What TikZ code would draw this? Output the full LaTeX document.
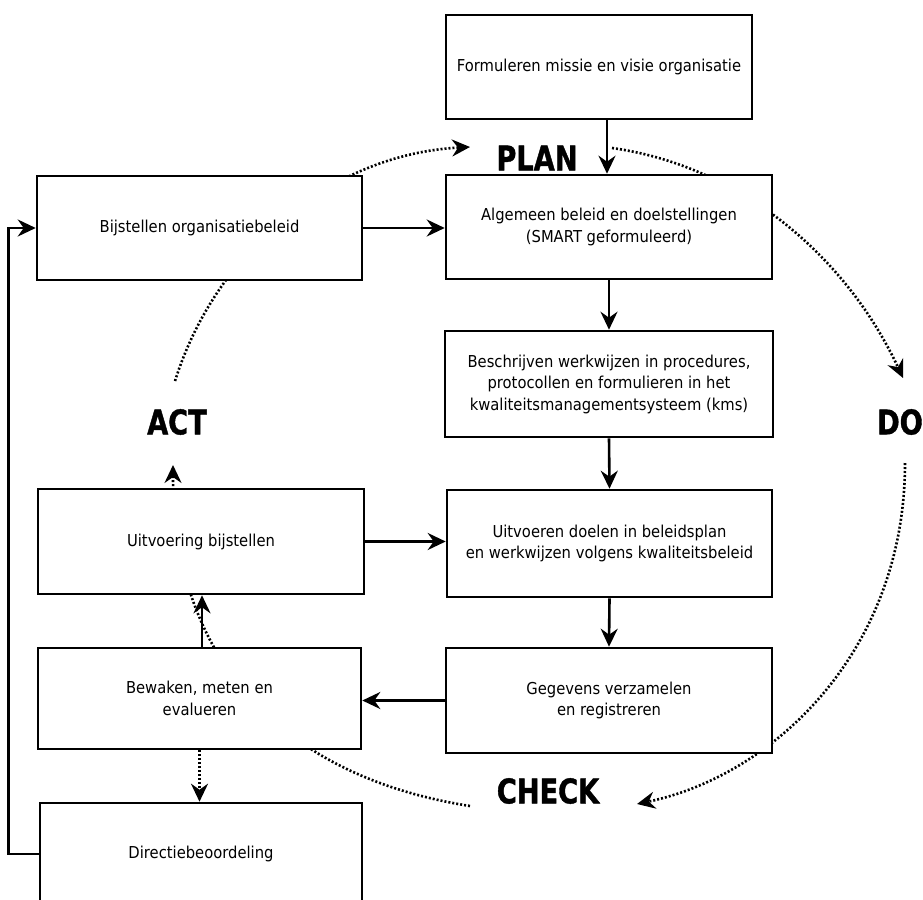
\documentclass[tikz,border=0pt]{standalone}
\usepackage{fontspec}
\setmainfont{DejaVu Sans}[FakeStretch=0.9]
\newfontfamily\lblfont[FakeStretch=0.8,FakeBold=1.2]{DejaVu Sans Bold}
\usetikzlibrary{arrows.meta}
\begin{document}
\begin{tikzpicture}[x=1pt,y=-1pt,
  box/.style={draw, line width=2.6pt, fill=white, inner sep=0pt, align=center,
    font=\fontsize{16.4}{21.5}\selectfont},
  arr/.style={line width=2.6pt, -{Stealth[length=18pt,width=17pt,inset=6pt]}},
  dotarr/.style={line width=2.6pt, dash pattern=on 2pt off 2pt,
    -{Stealth[length=18pt,width=17pt,inset=6pt]}},
  phase/.style={font=\lblfont\fontsize{34}{34}\selectfont, inner sep=0pt}]
\useasboundingbox (0,0) rectangle (923,899);
\clip (0,0) rectangle (923,899);
% cycle arcs (behind boxes)
\coordinate (a0) at (175,381); \coordinate (a1) at (470,147);
\coordinate (b0) at (612,148); \coordinate (b1) at (903,378);
\coordinate (c0) at (905,463); \coordinate (c1) at (637,804);
\coordinate (d0) at (470,806); \coordinate (d1) at (173,465);
\draw[dotarr] (a0) .. controls (216.4,249.4) and (332.3,154.2) .. (a1);
\draw[dotarr] (b0) .. controls (742.7,166.4) and (847.2,258.4) .. (b1);
\draw[dotarr] (c0) .. controls (905,650) and (775,775) .. (c1);
\draw[dotarr] (d0) .. controls (277.3,775.6) and (173,655) .. (d1);
% boxes
\node[box, minimum width=306pt, minimum height=104pt] (form) at (599,67) {Formuleren missie en visie organisatie};
\node[box, minimum width=326pt, minimum height=104pt] (alg) at (609,227) {Algemeen beleid en doelstellingen\\(SMART geformuleerd)};
\node[box, minimum width=328pt, minimum height=106pt] (besch) at (609,384) {Beschrijven werkwijzen in procedures,\\protocollen en formulieren in het\\kwaliteitsmanagementsysteem (kms)};
\node[box, minimum width=325pt, minimum height=107pt] (uitv) at (609.5,543.5) {Uitvoeren doelen in beleidsplan\\en werkwijzen volgens kwaliteitsbeleid};
\node[box, minimum width=326pt, minimum height=105pt] (geg) at (609,700.5) {Gegevens verzamelen\\en registreren};
\node[box, minimum width=325pt, minimum height=104pt] (bijst) at (199.5,228) {Bijstellen organisatiebeleid};
\node[box, minimum width=326pt, minimum height=105pt] (uitvb) at (201,541.5) {Uitvoering bijstellen};
\node[box, minimum width=323pt, minimum height=101pt] (bew) at (199.5,698.5) {Bewaken, meten en\\evalueren};
\node[box, minimum width=322pt, minimum height=102pt] (dir) at (201,854) {Directiebeoordeling};
% phase labels
\node[phase] (plan) at (537,158) {PLAN};
\node[phase] (do) at (900,422) {DO};
\node[phase] (check) at (548,791) {CHECK};
\node[phase] (act) at (177,422) {ACT};
% connectors
\draw[arr] ([xshift=8pt]form.south) -- ([xshift=-2pt]alg.north);
\draw[arr] (alg.south) -- (besch.north);
\draw[arr] (besch.south) -- (uitv.north);
\draw[arr] (uitv.south) -- (geg.north);
\draw[arr] (geg.west) -- (geg.west -| bew.east);
\draw[arr] ([xshift=2.5pt]bew.north) -- ([xshift=1pt]uitvb.south);
\draw[arr] (uitvb.east) -- (uitvb.east -| uitv.west);
\draw[arr] (bijst.east) -- (bijst.east -| alg.west);
\draw[dotarr] (bew.south) -- (bew.south |- dir.north);
\draw[arr] (dir.west) -- ++(-30,0) |- (bijst.west);
\end{tikzpicture}
\end{document}
